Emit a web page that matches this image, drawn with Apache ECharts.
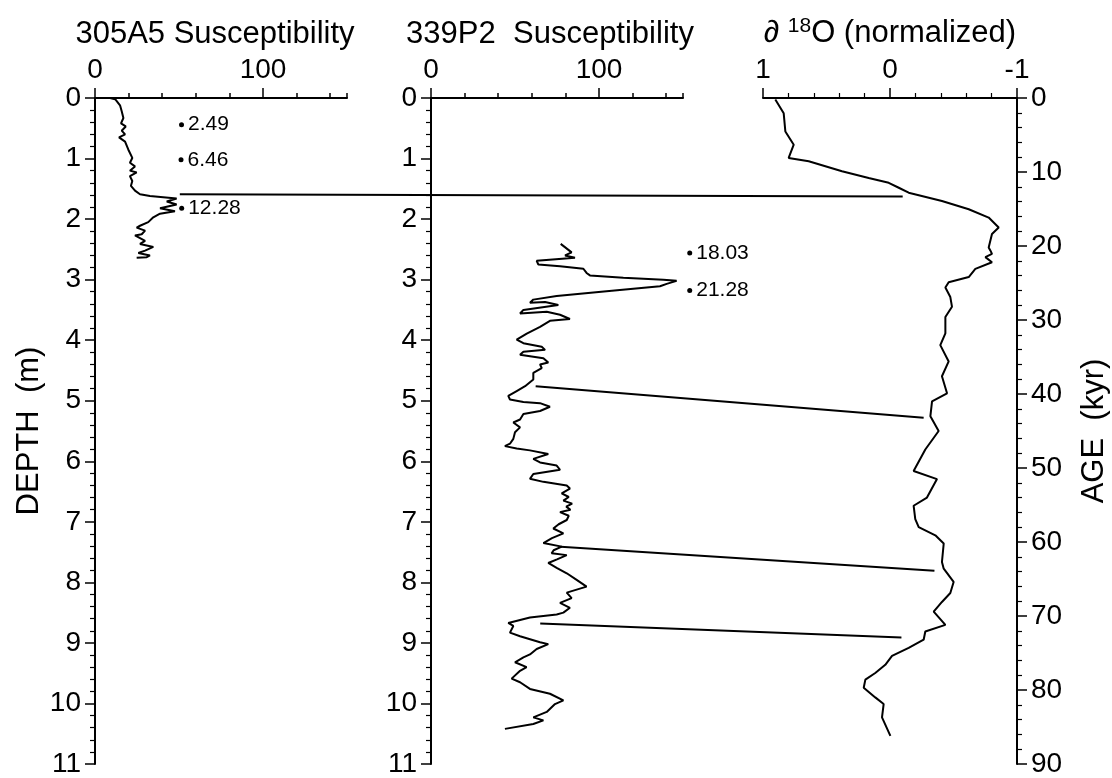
<!DOCTYPE html>
<html><head><meta charset="utf-8">
<script src="https://cdn.jsdelivr.net/npm/echarts@6/dist/echarts.min.js"></script>
<style>html,body{margin:0;padding:0;background:#fff}#c{width:1112px;height:778px}</style>
</head><body><div id="c"></div>
<script>
const FONT = '"Liberation Sans", Arial, Helvetica, sans-serif';

// ---- Core 305A5: magnetic susceptibility vs depth (m)
const depth305 = [0.00, 0.02, 0.12, 0.22, 0.33, 0.42, 0.47, 0.54, 0.60, 0.65, 0.72, 0.85, 0.99, 1.07, 1.13, 1.20, 1.23, 1.29, 1.37, 1.45, 1.53, 1.59, 1.62, 1.66, 1.71, 1.76, 1.82, 1.87, 1.91, 1.97, 2.05, 2.11, 2.14, 2.19, 2.25, 2.27, 2.36, 2.41, 2.46, 2.52, 2.56, 2.60, 2.63, 2.64];
const sus305   = [9, 12, 14.9, 15.9, 16.9, 15.5, 18.3, 15.9, 17.9, 14.3, 17.9, 19.8, 22.2, 20.8, 23.8, 20.8, 24.8, 20.8, 22.2, 21.4, 23.8, 26.8, 32.7, 48.6, 42.7, 48.6, 38.7, 47.6, 38.7, 34.7, 31.7, 26.8, 24.8, 29.8, 27.8, 23.8, 29.8, 26.8, 34.7, 29.8, 25.8, 32.7, 30.8, 24.8];

// ---- Core 339P2: magnetic susceptibility vs depth (m)
const depth339 = [2.41, 2.55, 2.60, 2.64, 2.69, 2.75, 2.78, 2.82, 2.89, 2.93, 2.97, 3.00, 3.02, 3.07, 3.11, 3.19, 3.27, 3.33, 3.38, 3.37, 3.42, 3.50, 3.56, 3.53, 3.58, 3.65, 3.68, 3.78, 3.89, 3.99, 4.05, 4.11, 4.16, 4.19, 4.24, 4.30, 4.37, 4.40, 4.46, 4.54, 4.65, 4.76, 4.84, 4.92, 4.98, 5.02, 5.04, 5.10, 5.17, 5.22, 5.31, 5.36, 5.44, 5.52, 5.63, 5.71, 5.75, 5.79, 5.82, 5.88, 5.96, 6.02, 6.07, 6.14, 6.21, 6.29, 6.34, 6.40, 6.45, 6.53, 6.59, 6.65, 6.70, 6.75, 6.80, 6.84, 6.90, 6.97, 7.04, 7.11, 7.19, 7.27, 7.35, 7.41, 7.47, 7.52, 7.55, 7.62, 7.68, 7.76, 7.85, 7.96, 8.07, 8.17, 8.26, 8.34, 8.42, 8.50, 8.53, 8.58, 8.67, 8.72, 8.83, 8.89, 8.99, 9.02, 9.10, 9.19, 9.24, 9.32, 9.40, 9.46, 9.59, 9.65, 9.76, 9.84, 9.95, 10.01, 10.14, 10.23, 10.28, 10.34, 10.42];
const sus339   = [77.2, 83.7, 79.8, 85.7, 62.9, 63.9, 76.8, 90.7, 92.6, 94.6, 114.5, 138.3, 146.2, 140.3, 136.3, 104.5, 74.8, 60.9, 58.9, 67.9, 75.8, 55.0, 53.0, 68.9, 76.8, 82.7, 70.8, 64.9, 57.0, 51.0, 55.0, 65.9, 67.9, 55.0, 53.0, 66.9, 69.8, 64.9, 65.9, 60.9, 60.9, 56.0, 51.0, 46.0, 47.0, 55.0, 64.9, 70.8, 64.9, 55.0, 53.0, 49.0, 53.0, 50.0, 49.0, 47.0, 44.0, 51.0, 58.9, 69.8, 60.9, 64.9, 74.8, 76.8, 60.9, 58.9, 66.9, 80.8, 82.7, 77.8, 82.0, 78.8, 84.0, 80.5, 83.0, 76.8, 82.0, 80.8, 76.0, 72.8, 78.8, 72.0, 66.9, 77.8, 73.0, 71.8, 80.8, 75.0, 69.8, 74.8, 80.8, 86.7, 92.6, 80.8, 83.7, 76.8, 82.7, 78.8, 74.8, 58.9, 46.0, 49.0, 47.0, 53.0, 64.9, 69.8, 62.9, 58.9, 55.0, 50.0, 56.9, 53.0, 48.0, 53.0, 58.9, 70.8, 78.8, 73.8, 68.9, 60.9, 66.9, 60.9, 44.0];

// ---- delta 18O (normalized) vs age (kyr)
const ageO18 = [0.2, 2.07, 4.52, 6.31, 8.1, 8.55, 9.89, 10.8, 11.46, 12.13, 12.8, 13.92, 15.04, 16.16, 17.5, 18.39, 20.19, 20.6, 21.07, 21.5, 22.2, 23.1, 24.2, 24.9, 25.6, 26.9, 28.2, 29.6, 31.8, 33.4, 35.6, 37.6, 39.9, 41.0, 43.0, 45.0, 47.5, 50.4, 51.5, 54.0, 55.1, 56.9, 58.0, 59.1, 60.2, 62.7, 63.6, 65.4, 66.9, 68.1, 69.4, 71.2, 72.1, 73.2, 74.3, 75.4, 76.6, 77.7, 78.6, 79.7, 81.0, 81.9, 83.7, 86.2];
const o18      = [0.903, 0.837, 0.824, 0.758, 0.798, 0.640, 0.378, 0.168, 0.010, -0.069, -0.147, -0.409, -0.620, -0.777, -0.856, -0.803, -0.777, -0.790, -0.803, -0.751, -0.803, -0.672, -0.620, -0.462, -0.436, -0.475, -0.488, -0.436, -0.436, -0.396, -0.462, -0.409, -0.449, -0.331, -0.318, -0.383, -0.278, -0.186, -0.370, -0.291, -0.186, -0.199, -0.226, -0.357, -0.423, -0.409, -0.423, -0.501, -0.475, -0.409, -0.344, -0.436, -0.278, -0.265, -0.147, -0.016, 0.037, 0.116, 0.194, 0.207, 0.116, 0.050, 0.063, -0.003];

// ---- Dated horizons (value, depth, label)
const dates305 = [[51.5, 0.44, '2.49'], [51.2, 1.02, '6.46'], [51.6, 1.82, '12.28']];
const dates339 = [[154, 2.56, '18.03'], [154, 3.18, '21.28']];

// ---- Tie lines: [panel (0 or 1), susceptibility, depth, delta18O, age]
const ties = [
  [0, 50.5, 1.59, -0.10, 13.3],
  [1, 62.3, 4.76, -0.265, 43.2],
  [1, 77.2, 7.41, -0.35, 63.9],
  [1, 65.0, 8.68, -0.09, 72.9]
];

// ---- Tick labels
const susLabels = [0, 100];

const BLACK = '#000';
const tickLabel = {color: BLACK, fontSize: 28, fontFamily: FONT};

function susAxes(grid) {
  return [
    {gridIndex: grid, type: 'value', position: 'top', min: 0, max: 150, interval: 20,
     axisLine: {show: true, onZero: false, lineStyle: {color: BLACK, width: 2}},
     axisTick: {show: true, length: 5, lineStyle: {color: BLACK, width: 1.5}},
     axisLabel: {show: false}, splitLine: {show: false}},
    {gridIndex: grid, type: 'value', position: 'top', min: 0, max: 150, interval: 100,
     axisLine: {show: false, onZero: false},
     axisTick: {show: true, length: 10, customValues: susLabels, lineStyle: {color: BLACK, width: 1.5}},
     axisLabel: Object.assign({show: true, margin: 14, customValues: susLabels}, tickLabel),
     splitLine: {show: false}}
  ];
}
function depthAxis(grid, withName) {
  return {gridIndex: grid, type: 'value', position: 'left', inverse: true, min: 0, max: 11, interval: 1,
    name: withName ? 'DEPTH  (m)' : '', nameLocation: 'middle', nameRotate: 90, nameGap: 50,
    nameTextStyle: {color: BLACK, fontSize: 31, fontFamily: FONT},
    axisLine: {show: true, onZero: false, lineStyle: {color: BLACK, width: 2}},
    axisTick: {show: true, length: 10, lineStyle: {color: BLACK, width: 1.5}},
    minorTick: {show: true, splitNumber: 5, length: 5, lineStyle: {color: BLACK, width: 1.2}},
    axisLabel: Object.assign({margin: 14}, tickLabel),
    splitLine: {show: false}, minorSplitLine: {show: false}};
}

const lineStyle = {color: BLACK, width: 2};
const dateSeries = (arr, xi, yi) => ({
  type: 'scatter', xAxisIndex: xi, yAxisIndex: yi, clip: false, symbolSize: 5, silent: true,
  itemStyle: {color: BLACK, opacity: 1},
  label: {show: true, position: 'right', distance: 4, formatter: p => p.name, color: BLACK, opacity: 1, fontSize: 21, fontFamily: FONT},
  data: arr.map(d => ({value: [d[0], d[1]], name: d[2]}))
});

const option = {
  animation: false,
  backgroundColor: '#fff',
  grid: [
    {left: 95, top: 98, width: 252, height: 670},
    {left: 431, top: 98, width: 252, height: 670},
    {left: 763, top: 98, width: 254, height: 670}
  ],
  xAxis: [
    ...susAxes(0), ...susAxes(1),
    {gridIndex: 2, type: 'value', position: 'top', min: -1, max: 1, interval: 1, inverse: true,
     axisLine: {show: true, onZero: false, lineStyle: {color: BLACK, width: 2}},
     axisTick: {show: true, length: 10, lineStyle: {color: BLACK, width: 1.5}},
     minorTick: {show: true, splitNumber: 5, length: 5, lineStyle: {color: BLACK, width: 1.2}},
     axisLabel: Object.assign({margin: 14, formatter: v => String(v)}, tickLabel),
     splitLine: {show: false}, minorSplitLine: {show: false}}
  ],
  yAxis: [
    depthAxis(0, true), depthAxis(1, false),
    {gridIndex: 2, type: 'value', position: 'right', inverse: true, min: 0, max: 90, interval: 10,
     name: 'AGE  (kyr)', nameLocation: 'middle', nameRotate: 90, nameGap: 62,
     nameTextStyle: {color: BLACK, fontSize: 31, fontFamily: FONT},
     axisLine: {show: true, onZero: false, lineStyle: {color: BLACK, width: 2}},
     axisTick: {show: true, length: 10, lineStyle: {color: BLACK, width: 1.5}},
     minorTick: {show: true, splitNumber: 5, length: 5, lineStyle: {color: BLACK, width: 1.2}},
     axisLabel: Object.assign({margin: 14}, tickLabel),
     splitLine: {show: false}, minorSplitLine: {show: false}}
  ],
  series: [
    {type: 'line', xAxisIndex: 0, yAxisIndex: 0, symbol: 'none', silent: true, lineStyle,
     data: depth305.map((d, i) => [sus305[i], d])},
    {type: 'line', xAxisIndex: 2, yAxisIndex: 1, symbol: 'none', silent: true, lineStyle,
     data: depth339.map((d, i) => [sus339[i], d])},
    {type: 'line', xAxisIndex: 4, yAxisIndex: 2, symbol: 'none', silent: true, lineStyle,
     data: ageO18.map((a, i) => [o18[i], a])},
    dateSeries(dates305, 0, 0),
    dateSeries(dates339, 2, 1)
  ]
};

const chart = echarts.init(document.getElementById('c'), null, {renderer: 'canvas'});
chart.setOption(option);

const graphics = [
  {type: 'text', x: 215, y: 50, style: {text: '305A5 Susceptibility', fill: BLACK, fontSize: 31, fontFamily: FONT, align: 'center', verticalAlign: 'bottom'}},
  {type: 'text', x: 550, y: 50, style: {text: '339P2  Susceptibility', fill: BLACK, fontSize: 31, fontFamily: FONT, align: 'center', verticalAlign: 'bottom'}},
  {type: 'text', x: 890, y: 50, style: {text: '{a|\u2202 }{s|18}{a|O (normalized)}', fill: BLACK, fontFamily: FONT, align: 'center', verticalAlign: 'bottom',
    rich: {a: {fontSize: 31, fontFamily: FONT, fill: BLACK, lineHeight: 34}, s: {fontSize: 21, fontFamily: FONT, fill: BLACK, verticalAlign: 'top', lineHeight: 34}}}}
];
ties.forEach(t => {
  const p1 = chart.convertToPixel({xAxisIndex: t[0] === 0 ? 0 : 2, yAxisIndex: t[0]}, [t[1], t[2]]);
  const p2 = chart.convertToPixel({xAxisIndex: 4, yAxisIndex: 2}, [t[3], t[4]]);
  graphics.push({type: 'line', z: 10, silent: true, shape: {x1: p1[0], y1: p1[1], x2: p2[0], y2: p2[1]}, style: {stroke: BLACK, lineWidth: 2}});
});
chart.setOption({graphic: graphics});
</script></body></html>
